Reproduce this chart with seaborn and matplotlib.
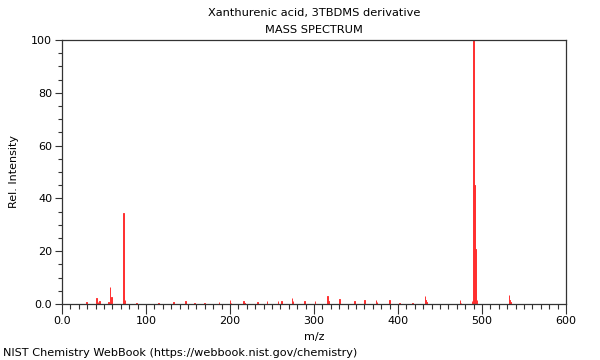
import matplotlib
matplotlib.use("Agg")
import matplotlib.pyplot as plt
import seaborn as sns
import pandas as pd
from matplotlib.ticker import MultipleLocator, FixedLocator

title_lines = ["Xanthurenic acid, 3TBDMS derivative", "MASS SPECTRUM"]
footer = "NIST Chemistry WebBook (https://webbook.nist.gov/chemistry)"

mz = [29, 41, 43, 45, 55, 57, 59, 73, 74, 75, 89, 115, 133, 147, 158, 170, 187,
      200, 201, 216, 217, 233, 244, 257, 261, 274, 275, 289, 301, 316, 317, 330, 331,
      348, 360, 374, 375, 390, 402, 417, 432, 433, 434, 474, 475, 488, 490, 491, 492,
      493, 494, 532, 533, 534]
intensity = [0.8, 2.3, 0.6, 1.2, 0.8, 6.5, 2.8, 34.5, 3.0, 1.5, 0.5, 0.4, 0.6, 1.0, 0.5, 0.4, 0.6,
             1.4, 0.5, 1.0, 0.4, 0.8, 1.0, 1.0, 1.0, 2.3, 1.0, 1.0, 1.0, 3.0, 1.2, 2.0, 0.8,
             1.3, 1.5, 1.5, 0.6, 1.5, 0.4, 0.5, 3.0, 1.5, 0.6, 1.5, 0.5, 1.0, 100.0, 45.0, 20.8,
             5.7, 1.5, 3.4, 1.5, 0.6]
x_ticks = [0, 100, 200, 300, 400, 500, 600]
x_tick_labels = ["0.0", "100", "200", "300", "400", "500", "600"]
y_ticks = [0, 20, 40, 60, 80, 100]
y_tick_labels = ["0.0", "20", "40", "60", "80", "100"]

df = pd.DataFrame({"mz": mz, "intensity": intensity})

sns.set_style("ticks")
plt.rcParams["font.family"] = ["DejaVu Sans"]
plt.rcParams["text.color"] = "black"
plt.rcParams["axes.labelcolor"] = "black"
plt.rcParams["xtick.color"] = "#333333"
plt.rcParams["ytick.color"] = "#333333"
plt.rcParams["xtick.labelcolor"] = "black"
plt.rcParams["ytick.labelcolor"] = "black"

fig = plt.figure(figsize=(6, 3.6), dpi=100)
ax = fig.add_axes([62 / 600, 56 / 360, 504 / 600, 264 / 360])

sns.barplot(data=df, x="mz", y="intensity", native_scale=True, color="#ff1a1a",
            width=0.8, edgecolor="#ff3030", linewidth=0.7, saturation=1, ax=ax)

ax.set_xlim(0, 600)
ax.set_ylim(0, 100)
ax.xaxis.set_major_locator(FixedLocator(x_ticks))
ax.set_xticklabels(x_tick_labels)
ax.xaxis.set_minor_locator(MultipleLocator(10))
ax.yaxis.set_major_locator(FixedLocator(y_ticks))
ax.set_yticklabels(y_tick_labels)
ax.yaxis.set_minor_locator(MultipleLocator(5))
ax.set_xlim(0, 600)
ax.set_ylim(0, 100)

for s in ax.spines.values():
    s.set_visible(True)
    s.set_color("#333333")
    s.set_linewidth(0.9)

ax.tick_params(axis="x", which="major", direction="out", length=7, width=0.8,
               labelsize=8, pad=2)
ax.tick_params(axis="x", which="minor", direction="out", length=3.5, width=0.8)
ax.tick_params(axis="y", which="major", direction="out", length=5, width=0.8,
               labelsize=8, pad=2)
ax.tick_params(axis="y", which="minor", direction="out", length=3, width=0.8)

ax.set_xlabel("m/z", fontsize=8, labelpad=4)
ax.set_ylabel("Rel. Intensity", fontsize=8, labelpad=9)

cx = 314 / 600
fig.text(cx, 1 - 13 / 360, title_lines[0], ha="center", va="center", fontsize=8.2)
fig.text(cx, 1 - 30 / 360, title_lines[1], ha="center", va="center", fontsize=8.2)
fig.text(3 / 600, 1 - 353 / 360, footer, ha="left", va="center", fontsize=8.1)

fig.savefig("out.png", dpi=100)
